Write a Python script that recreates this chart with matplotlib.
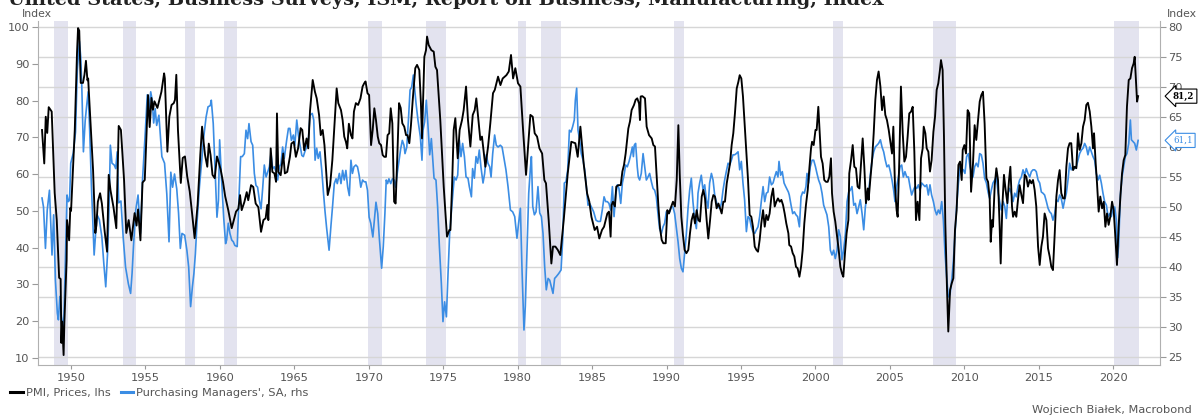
import matplotlib
matplotlib.use("Agg")
import matplotlib.pyplot as plt
from matplotlib.transforms import blended_transform_factory
from matplotlib.lines import Line2D

# ---------------- data ----------------
prices_t = [1948.05,1948.20,1948.30,1948.40,1948.50,1948.70,1948.90,1949.04,1949.20,1949.30,1949.35,1949.40,1949.50,1949.55,1949.70,1949.73,1949.87,1949.95,1950.00,1950.25,1950.40,1950.47,1950.55,1950.65,1950.80,1950.90,1951.00,1951.10,1951.15,1951.20,1951.48,1951.63,1951.70,1951.80,1951.95,1952.07,1952.26,1952.42,1952.53,1952.65,1952.85,1953.04,1953.20,1953.35,1953.56,1953.71,1953.87,1954.05,1954.27,1954.40,1954.50,1954.66,1954.80,1954.95,1955.17,1955.28,1955.40,1955.50,1955.60,1955.70,1955.80,1956.07,1956.25,1956.30,1956.47,1956.60,1956.75,1956.90,1956.98,1957.07,1957.18,1957.37,1957.50,1957.65,1957.80,1957.97,1958.13,1958.30,1958.50,1958.68,1958.80,1958.90,1959.00,1959.15,1959.25,1959.37,1959.50,1959.65,1959.80,1959.90,1960.05,1960.20,1960.35,1960.56,
    1960.79,1960.90,1961.08,1961.24,1961.35,1961.46,1961.64,1961.80,1961.90,1962.09,1962.24,1962.40,1962.58,1962.76,1962.92,1963.07,1963.18,1963.25,1963.41,1963.52,1963.66,1963.77,1963.83,1963.92,1964.08,1964.25,1964.36,1964.52,1964.70,1964.80,1964.96,1965.10,1965.25,1965.42,1965.53,1965.66,1965.82,1965.93,1966.05,1966.23,1966.38,1966.50,1966.66,1966.77,1966.90,1967.02,1967.13,1967.24,1967.40,1967.55,1967.70,1967.84,1967.95,1968.13,1968.24,1968.35,1968.46,1968.55,1968.66,1968.80,1968.90,1969.00,1969.13,1969.28,1969.44,1969.58,1969.69,1969.78,1969.91,1970.02,1970.15,1970.26,1970.37,1970.48,1970.60,1970.70,1970.82,1970.93,1971.04,1971.15,1971.26,1971.37,1971.47,1971.58,1971.70,1971.80,1971.92,1972.03,1972.14,1972.25,1972.38,1972.50,1972.60,1972.72,1972.83,1972.95,
    1973.12,1973.24,1973.39,1973.50,1973.57,1973.73,1973.84,1973.91,1974.02,1974.20,1974.36,1974.47,1974.58,1974.80,1975.03,1975.25,1975.41,1975.48,1975.59,1975.70,1975.81,1975.97,1976.10,1976.26,1976.37,1976.53,1976.66,1976.82,1976.98,1977.11,1977.22,1977.49,1977.60,1977.83,1978.01,1978.16,1978.34,1978.46,1978.68,1978.84,1978.99,1979.24,1979.40,1979.55,1979.69,1979.84,1980.02,1980.18,1980.36,1980.56,1980.69,1980.85,1981.01,1981.14,1981.30,1981.46,1981.64,1981.79,1981.90,1982.08,1982.26,1982.37,1982.53,1982.69,1982.86,1983.09,1983.36,1983.60,1983.87,1984.03,1984.21,1984.43,1984.66,1984.81,1984.95,1985.17,1985.33,1985.48,1985.66,
    1985.80,1985.91,1986.02,1986.13,1986.24,1986.31,1986.40,1986.53,1986.62,1986.76,1986.92,1987.03,1987.14,1987.25,1987.43,1987.54,1987.65,1987.81,1987.92,1988.03,1988.15,1988.21,1988.26,1988.37,1988.55,1988.66,1988.82,1989.00,1989.11,1989.22,1989.31,1989.45,1989.56,1989.67,1989.78,1989.94,1990.05,1990.16,1990.27,1990.43,1990.56,1990.68,1990.79,1990.88,1990.99,1991.10,1991.21,1991.33,1991.46,1991.57,1991.68,1991.80,1991.91,1992.02,1992.13,1992.24,1992.36,1992.47,1992.58,1992.69,1992.80,1992.92,1993.03,1993.14,1993.25,1993.36,1993.48,1993.59,1993.70,1993.81,1993.92,1994.04,1994.15,1994.26,1994.37,1994.48,1994.59,1994.71,1994.82,1994.91,1995.02,1995.13,1995.24,1995.36,1995.47,1995.58,1995.69,1995.80,1995.92,1996.03,1996.14,1996.25,1996.36,1996.48,1996.59,1996.70,1996.81,1996.92,1997.04,1997.15,1997.26,1997.37,1997.48,1997.60,1997.71,1997.82,1997.93,1998.04,1998.18,
    1998.24,1998.36,1998.47,1998.58,1998.69,1998.80,1998.92,1999.03,1999.14,1999.25,1999.36,1999.48,1999.59,1999.70,1999.77,1999.88,2000.00,2000.08,2000.19,2000.26,2000.37,2000.48,2000.59,2000.71,2000.82,2000.93,2001.04,2001.11,2001.22,2001.33,2001.45,2001.56,2001.67,2001.78,2001.87,2001.98,2002.09,2002.21,2002.27,2002.39,2002.50,2002.61,2002.72,2002.83,2002.95,2003.06,2003.17,2003.28,2003.39,2003.51,2003.57,2003.68,2003.80,2003.91,2004.02,2004.13,2004.24,2004.36,2004.47,2004.58,2004.69,2004.80,2004.92,2005.03,2005.14,2005.23,2005.34,2005.45,2005.52,2005.63,2005.74,2005.86,2005.97,2006.08,2006.19,2006.30,2006.42,2006.53,2006.64,2006.75,2006.86,2006.98,2007.09,2007.20,2007.27,2007.38,2007.47,2007.58,2007.69,2007.80,2007.92,2008.03,2008.14,2008.25,2008.36,2008.43,2008.54,2008.63,2008.72,2008.83,2008.92,2009.04,2009.15,2009.26,2009.37,2009.48,2009.60,2009.71,2009.82,2009.89,2010.00,2010.11,2010.22,2010.33,2010.45,2010.58,
    2010.69,2010.80,2010.92,2011.03,2011.14,2011.25,2011.36,2011.48,2011.59,2011.70,2011.77,2011.86,2011.92,2012.04,2012.15,2012.26,2012.37,2012.44,2012.55,2012.66,2012.77,2012.89,2013.00,2013.09,2013.20,2013.27,2013.38,2013.49,2013.60,2013.71,2013.83,2013.94,2014.05,2014.16,2014.27,2014.39,2014.50,2014.61,2014.72,2014.83,2014.95,2015.06,2015.17,2015.28,2015.39,2015.51,2015.62,2015.73,2015.84,2015.95,2016.07,2016.18,2016.29,2016.40,2016.51,2016.63,2016.74,2016.85,2016.96,2017.07,2017.18,2017.30,2017.41,2017.52,2017.63,2017.74,2017.86,2017.97,2018.08,2018.19,2018.30,2018.42,2018.53,2018.64,2018.71,2018.82,2018.91,2019.02,2019.13,2019.25,2019.36,2019.47,2019.58,2019.69,2019.80,2019.92,2020.03,2020.14,2020.25,2020.36,2020.48,2020.59,2020.70,2020.81,2020.92,2021.04,2021.15,2021.26,2021.37,2021.44,2021.51,2021.60,2021.67]
prices = [72.0,62.9,75.6,71.2,78.2,77.0,54.9,47.5,31.8,31.5,14.1,19.9,10.8,19.6,36.6,47.5,42.0,50.8,50.0,72.0,92.9,99.7,99.0,84.8,84.8,87.0,90.8,85.5,86.0,82.0,61.0,44.0,46.0,52.5,54.8,52.0,44.3,38.9,59.8,55.6,51.0,45.3,73.1,72.0,58.4,44.0,47.5,42.0,49.4,46.0,50.4,42.0,57.7,58.4,81.5,72.8,80.7,77.5,79.8,78.9,78.0,82.4,87.4,86.0,66.1,75.6,78.8,79.3,80.2,87.0,72.0,57.6,64.4,64.8,59.4,55.3,49.3,42.6,51.7,65.2,72.9,68.8,65.2,62.0,68.3,65.2,59.8,58.9,64.8,63.5,61.2,58.0,54.0,50.2,
    45.3,47.0,49.8,50.6,54.3,50.2,52.4,55.1,52.9,57.0,56.5,52.0,51.0,44.3,47.5,48.0,51.6,47.5,67.0,60.6,60.2,57.9,76.5,60.6,59.7,65.6,60.2,60.6,64.7,68.3,68.8,64.7,67.0,72.5,72.0,66.5,69.7,67.0,77.2,85.6,82.4,80.6,76.0,70.6,72.0,67.9,61.1,54.3,57.0,63.8,73.7,83.3,79.3,77.4,74.7,70.2,68.8,67.0,73.7,70.6,69.7,77.0,79.3,78.8,80.6,83.8,84.7,85.2,82.0,81.5,67.9,72.0,77.9,74.7,70.2,68.4,67.9,65.2,64.7,64.7,70.6,71.1,77.9,73.8,52.5,52.0,65.6,79.3,78.0,73.8,72.9,70.6,70.6,68.4,73.3,80.2,
    88.8,89.7,88.3,79.2,69.7,91.9,93.7,97.4,95.1,93.7,93.3,89.2,88.3,74.7,56.6,43.0,44.8,44.8,56.6,72.0,75.2,64.3,72.0,74.7,77.4,83.8,74.7,67.5,76.1,77.4,80.6,69.3,70.2,62.0,67.5,73.8,82.0,82.9,86.5,84.2,86.0,86.9,87.9,92.4,86.0,88.8,84.7,83.8,72.0,59.8,67.0,76.1,75.6,71.1,70.2,67.0,65.6,58.4,57.5,47.5,35.7,40.3,40.3,39.4,38.0,47.5,60.2,68.8,68.4,64.7,72.9,62.9,54.8,52.5,48.4,44.8,45.7,42.5,44.8,
    45.7,47.5,49.3,49.8,43.0,51.6,52.5,51.2,56.6,57.0,57.0,60.7,62.5,65.6,72.4,74.3,77.4,78.8,80.2,80.6,79.2,74.7,81.1,81.2,80.6,72.9,70.6,69.7,67.9,67.5,61.1,51.2,45.3,42.1,41.2,41.2,50.2,49.3,50.7,52.5,51.2,58.4,73.3,60.2,48.4,43.4,39.4,38.5,39.4,43.9,47.5,49.3,46.6,50.2,47.5,47.1,53.9,55.7,53.4,47.5,42.5,47.5,52.5,54.3,53.9,50.7,52.0,50.7,49.3,52.5,52.5,57.5,60.2,62.9,67.9,71.1,76.5,83.3,85.1,86.9,86.0,81.1,73.8,66.1,58.4,48.9,48.4,45.7,40.3,39.4,38.9,42.1,46.6,50.2,45.7,48.9,47.5,49.3,53.9,56.1,51.2,52.5,53.4,52.5,53.0,51.6,49.3,46.6,43.9,
    40.7,40.3,38.5,37.6,34.8,34.4,32.1,34.8,39.4,46.6,51.6,55.7,61.6,67.0,68.8,67.9,72.0,72.0,78.3,72.9,64.7,62.9,58.4,57.9,57.9,59.3,64.3,54.8,49.8,47.1,43.0,39.4,34.8,33.0,32.1,38.5,43.9,47.5,60.2,63.8,67.9,62.0,61.6,56.6,56.1,62.9,69.7,62.0,52.1,56.1,53.0,58.4,63.8,71.1,80.2,85.6,87.9,83.8,77.4,81.1,76.1,74.7,72.0,68.8,65.6,72.9,56.6,50.2,48.4,63.8,83.8,71.1,63.4,64.7,70.2,76.5,77.0,78.3,66.1,47.5,52.5,47.5,64.3,67.0,72.9,71.1,67.0,66.1,60.7,63.8,71.5,75.6,82.9,84.7,88.3,91.0,88.3,70.2,46.6,29.4,17.2,28.5,30.3,31.7,44.8,50.2,62.5,63.4,58.4,66.6,67.9,65.6,77.4,76.5,55.2,62.9,
    73.3,69.3,74.7,79.7,81.5,82.4,73.8,58.9,57.9,53.4,41.6,47.5,45.7,57.0,61.6,58.4,45.7,35.7,51.2,59.8,55.7,52.1,58.4,62.0,51.2,48.4,49.8,48.4,53.0,57.0,54.3,52.1,59.8,59.3,56.6,58.4,57.5,58.4,55.7,51.2,40.3,35.3,40.3,43.0,49.3,47.5,39.8,37.6,34.8,33.9,43.9,53.9,58.4,61.1,54.8,53.4,53.4,62.0,67.0,68.4,68.4,61.1,62.0,61.6,71.1,66.6,68.4,72.9,74.7,78.8,79.4,77.0,72.9,67.0,71.1,62.9,57.5,49.8,53.9,50.7,52.5,45.7,49.3,46.2,48.4,52.5,50.2,43.0,35.3,45.7,53.9,60.2,63.8,65.2,78.3,85.6,86.0,88.8,90.1,91.9,86.5,79.7,81.2]

pmi_t = [1948.05,1948.15,1948.28,1948.40,1948.55,1948.72,1948.83,1948.95,1949.08,1949.15,1949.25,1949.35,1949.50,1949.60,1949.73,1949.82,1949.90,1949.98,1950.15,1950.30,1950.42,1950.56,1950.65,1950.72,1950.83,1950.95,1951.05,1951.15,1951.25,1951.37,1951.55,1951.65,1951.75,1951.90,1952.07,1952.20,1952.33,1952.45,1952.55,1952.64,1952.75,1952.90,1953.00,1953.10,1953.20,1953.35,1953.50,1953.66,1953.85,1954.00,1954.10,1954.20,1954.35,1954.50,1954.66,1954.80,1954.90,1955.00,1955.12,1955.23,1955.35,1955.45,1955.55,1955.65,1955.75,1955.90,1956.10,1956.28,1956.43,1956.58,1956.70,1956.82,1956.95,1957.10,1957.22,1957.34,1957.45,1957.63,1957.78,1957.90,1958.03,1958.15,1958.25,1958.35,1958.47,1958.62,1958.78,1958.90,1959.07,1959.20,1959.35,1959.42,1959.55,1959.66,1959.80,1959.90,1959.98,1960.10,1960.25,1960.38,
    1960.45,1960.56,1960.67,1960.79,1960.90,1961.00,1961.16,1961.28,1961.39,1961.50,1961.64,1961.75,1961.86,1961.95,1962.09,1962.20,1962.31,1962.42,1962.53,1962.65,1962.76,1962.87,1962.98,1963.10,1963.20,1963.32,1963.43,1963.54,1963.66,1963.77,1963.88,1963.99,1964.10,1964.21,1964.32,1964.48,1964.60,1964.70,1964.80,1964.93,1965.03,1965.16,1965.27,1965.38,1965.50,1965.60,1965.70,1965.82,1965.93,1966.05,1966.20,1966.30,1966.39,1966.50,1966.60,1966.72,1966.84,1966.95,1967.06,1967.17,1967.33,1967.46,1967.57,1967.68,1967.80,1967.88,1968.02,1968.13,1968.24,1968.35,1968.46,1968.58,1968.69,1968.80,1968.90,1969.00,1969.13,1969.24,1969.35,1969.46,1969.58,1969.69,1969.80,1969.91,1970.02,1970.13,1970.27,1970.37,1970.48,1970.60,1970.70,1970.86,1970.97,1971.08,1971.17,1971.26,1971.35,1971.47,1971.58,1971.70,1971.80,1971.92,1972.03,1972.14,1972.25,1972.36,1972.43,1972.55,1972.66,1972.77,1972.88,1972.99,
    1973.17,1973.30,1973.46,1973.57,1973.64,1973.75,1973.86,1973.97,1974.09,1974.20,1974.29,1974.38,1974.51,1974.62,1974.74,1974.87,1974.98,1975.09,1975.21,1975.32,1975.43,1975.59,1975.74,1975.86,1975.97,1976.08,1976.19,1976.30,1976.42,1976.53,1976.66,1976.75,1976.89,1976.97,1977.09,1977.20,1977.31,1977.42,1977.53,1977.67,1977.78,1977.89,1978.00,1978.12,1978.21,1978.32,1978.45,1978.56,1978.68,1978.83,1978.95,1979.06,1979.21,1979.35,1979.51,1979.66,1979.80,1979.95,1980.06,1980.18,1980.29,1980.42,1980.51,1980.62,1980.74,1980.85,1980.92,1981.01,1981.12,1981.23,1981.36,1981.48,1981.59,1981.70,1981.81,1981.92,1982.04,1982.15,1982.26,1982.37,1982.48,1982.59,1982.75,1982.91,1983.02,1983.13,1983.24,1983.36,1983.47,1983.58,1983.69,1983.80,1983.87,1983.96,1984.05,1984.16,1984.27,1984.39,1984.50,1984.61,1984.72,1984.83,1984.99,1985.10,1985.26,1985.39,1985.55,
    1985.57,1985.68,1985.80,1985.91,1986.02,1986.13,1986.24,1986.36,1986.47,1986.58,1986.69,1986.80,1986.92,1987.03,1987.14,1987.25,1987.36,1987.48,1987.59,1987.70,1987.77,1987.83,1987.92,1988.03,1988.10,1988.19,1988.30,1988.42,1988.53,1988.64,1988.75,1988.86,1988.98,1989.09,1989.20,1989.31,1989.42,1989.53,1989.65,1989.76,1989.87,1989.98,1990.09,1990.21,1990.32,1990.43,1990.54,1990.65,1990.77,1990.88,1990.99,1991.10,1991.21,1991.33,1991.44,1991.55,1991.66,1991.77,1991.89,1992.00,1992.11,1992.22,1992.33,1992.45,1992.56,1992.67,1992.78,1992.89,1993.01,1993.12,1993.23,1993.34,1993.45,1993.57,1993.68,1993.79,1993.90,1994.01,1994.13,1994.24,1994.35,1994.46,1994.57,1994.68,1994.80,1994.91,1995.02,1995.13,1995.24,1995.36,1995.47,1995.58,1995.69,1995.80,1995.92,1996.03,1996.14,1996.25,1996.36,1996.48,1996.59,1996.70,1996.81,1996.92,1997.04,1997.15,1997.26,1997.37,1997.48,1997.55,1997.66,1997.77,1997.89,1998.00,1998.18,
    1998.24,1998.36,1998.47,1998.58,1998.69,1998.80,1998.92,1999.03,1999.14,1999.25,1999.36,1999.43,1999.54,1999.65,1999.77,1999.88,2000.00,2000.10,2000.21,2000.33,2000.44,2000.55,2000.66,2000.77,2000.89,2001.00,2001.11,2001.22,2001.33,2001.45,2001.56,2001.67,2001.78,2001.89,2002.01,2002.12,2002.23,2002.34,2002.45,2002.57,2002.68,2002.79,2002.90,2003.01,2003.13,2003.24,2003.35,2003.46,2003.57,2003.68,2003.80,2003.91,2004.02,2004.13,2004.24,2004.36,2004.47,2004.58,2004.69,2004.80,2004.92,2005.03,2005.14,2005.25,2005.34,2005.45,2005.57,2005.68,2005.79,2005.90,2006.01,2006.13,2006.24,2006.35,2006.46,2006.57,2006.68,2006.80,2006.91,2007.02,2007.13,2007.24,2007.36,2007.47,2007.58,2007.69,2007.80,2007.92,2008.03,2008.14,2008.25,2008.36,2008.48,2008.59,2008.70,2008.81,2008.92,2009.04,2009.15,2009.26,2009.37,2009.48,2009.60,2009.71,2009.82,2009.93,2010.04,2010.15,2010.27,2010.38,2010.49,
    2010.58,2010.69,2010.80,2010.92,2011.03,2011.14,2011.25,2011.36,2011.48,2011.59,2011.70,2011.81,2011.92,2012.04,2012.15,2012.26,2012.37,2012.48,2012.60,2012.71,2012.82,2012.93,2013.04,2013.15,2013.27,2013.38,2013.49,2013.60,2013.71,2013.83,2013.94,2014.05,2014.16,2014.27,2014.39,2014.50,2014.61,2014.72,2014.83,2014.95,2015.06,2015.17,2015.28,2015.39,2015.51,2015.62,2015.73,2015.84,2015.95,2016.07,2016.18,2016.29,2016.40,2016.51,2016.63,2016.74,2016.85,2016.96,2017.07,2017.18,2017.30,2017.41,2017.52,2017.63,2017.74,2017.86,2017.97,2018.08,2018.19,2018.30,2018.42,2018.53,2018.64,2018.75,2018.86,2018.98,2019.09,2019.20,2019.31,2019.42,2019.54,2019.65,2019.76,2019.87,2019.98,2020.10,2020.21,2020.28,2020.36,2020.48,2020.59,2020.70,2020.81,2020.92,2021.04,2021.15,2021.22,2021.33,2021.44,2021.55,2021.67]
pmi = [51.5,50.0,43.1,49.5,52.8,42.0,48.7,37.8,32.3,31.2,35.1,31.8,29.5,39.0,52.0,50.9,51.2,57.3,59.0,62.5,72.8,77.6,75.0,70.3,59.2,64.4,66.9,69.2,62.8,53.4,42.0,45.6,48.7,47.9,45.0,40.6,36.7,42.2,49.7,60.3,57.3,57.0,56.4,59.2,50.7,51.0,45.0,40.0,37.2,35.6,39.0,43.8,49.6,52.0,45.6,54.5,58.7,63.1,68.7,66.4,69.2,67.8,64.0,66.4,63.6,65.3,58.4,57.3,52.2,44.2,55.8,53.3,55.5,53.0,49.0,43.1,45.6,45.3,42.8,40.0,33.4,36.7,38.9,42.2,47.8,53.3,57.8,61.4,65.0,66.7,66.9,67.8,63.9,57.2,48.3,51.1,61.2,55.1,48.3,43.9,
    44.5,47.3,45.6,44.5,44.2,43.6,43.4,51.7,58.4,58.4,58.9,62.8,61.4,63.9,60.9,60.3,55.6,53.6,53.3,51.1,49.7,53.1,57.0,55.0,55.8,56.7,58.9,56.4,56.7,55.8,54.5,56.7,57.2,60.0,58.1,61.1,63.1,63.1,61.1,62.0,60.3,64.5,62.0,60.3,58.6,58.4,59.2,60.0,60.9,65.3,65.6,64.5,57.8,59.8,58.1,59.2,56.1,52.5,49.2,46.4,42.8,47.0,50.3,53.9,54.7,53.9,55.6,53.9,56.1,54.5,56.1,53.3,51.9,57.8,55.6,56.7,57.0,56.7,55.3,53.3,54.5,54.2,54.2,52.8,48.3,47.3,45.0,47.8,50.8,48.9,45.0,39.8,43.4,48.9,54.5,53.9,54.7,53.9,54.7,54.5,53.3,55.8,57.8,59.7,61.1,60.3,58.9,60.0,64.5,69.5,70.0,72.0,
    67.3,64.5,61.7,57.8,62.8,64.2,67.8,63.7,58.7,61.4,58.1,54.8,54.5,50.1,43.4,37.3,30.9,34.2,31.7,38.9,45.6,50.6,55.0,54.5,55.3,61.2,58.4,60.6,58.4,55.0,54.8,53.4,51.7,56.4,54.8,58.4,57.3,59.5,56.7,54.0,55.6,58.7,57.3,56.7,55.0,58.9,62.0,60.3,60.0,60.3,60.0,58.4,56.2,53.4,49.5,49.2,48.4,44.8,47.3,49.8,39.5,29.5,33.4,42.3,52.3,56.4,58.4,50.1,48.7,49.2,53.4,49.0,48.4,45.6,40.1,36.2,38.1,37.8,36.7,35.6,38.1,38.4,38.9,39.5,44.5,54.0,54.2,56.2,62.8,62.5,63.4,64.5,67.8,69.8,62.8,61.2,58.9,57.8,56.2,53.4,50.3,50.6,49.8,49.2,47.8,47.6,47.6,
    47.8,49.5,51.7,50.9,50.9,50.6,49.5,53.4,48.4,52.0,53.7,53.1,50.6,54.0,55.3,57.0,56.7,57.6,58.7,60.0,58.4,60.3,60.6,56.7,55.0,54.5,55.6,58.9,56.7,54.5,55.0,55.6,54.2,53.1,52.8,51.7,48.9,46.4,45.6,46.7,47.3,49.2,48.9,49.2,50.0,50.0,48.9,46.7,44.2,41.4,39.8,39.2,42.3,45.6,49.8,52.8,54.8,50.9,47.8,46.4,52.3,54.0,55.3,52.8,53.7,51.2,49.8,54.0,55.6,54.5,52.0,50.9,50.0,49.8,50.6,52.8,54.5,55.9,57.3,57.0,57.8,58.7,58.7,58.9,59.2,56.2,57.6,54.0,51.2,45.9,48.4,48.1,46.7,45.9,45.6,46.2,46.7,48.4,50.9,53.4,50.9,52.3,52.5,55.0,53.7,54.0,55.0,55.9,55.0,57.6,55.3,55.9,54.0,53.4,52.5,
    52.0,50.3,48.9,49.2,48.7,48.4,46.7,51.7,52.5,52.3,53.4,55.6,54.0,56.7,57.8,57.8,56.7,55.6,54.5,53.7,52.3,50.3,49.5,48.7,46.7,42.8,42.0,42.8,41.4,42.8,46.2,45.1,41.2,42.8,45.6,50.9,52.5,52.8,53.4,50.3,50.6,48.9,50.0,51.2,48.9,46.2,50.0,52.0,52.3,55.3,57.8,59.2,60.0,60.3,60.6,61.2,60.0,59.2,57.8,56.7,57.0,55.9,54.5,52.8,50.9,53.4,55.0,56.7,57.0,55.0,55.9,55.0,55.0,53.4,52.0,52.8,53.4,53.1,53.7,52.8,54.0,53.7,53.4,53.7,52.0,53.7,52.0,50.9,49.5,48.7,49.5,48.9,50.9,47.8,42.3,38.4,35.0,35.5,37.8,40.9,45.6,50.0,54.0,56.7,56.4,56.2,55.6,58.4,58.9,56.7,55.6,
    55.0,56.7,57.3,56.7,58.9,58.7,57.3,54.8,54.0,52.5,51.4,52.8,54.0,54.5,55.0,52.5,50.9,49.5,50.9,50.1,48.1,52.3,53.1,52.3,50.9,52.3,51.7,53.4,54.5,55.0,56.2,55.3,56.4,55.6,55.0,55.9,56.2,56.2,55.9,54.5,54.0,52.5,52.3,52.0,50.9,49.8,49.2,48.9,47.8,48.9,51.2,50.9,52.0,51.4,49.8,51.2,52.3,54.5,57.3,56.2,56.7,56.4,56.7,57.8,58.9,59.5,59.8,60.6,60.0,58.7,60.0,59.2,58.4,57.8,55.6,54.5,55.3,54.0,52.3,50.9,50.3,48.4,48.9,48.4,49.8,50.0,47.8,41.5,43.5,52.0,55.0,56.7,58.4,58.9,60.6,64.5,61.2,60.9,60.6,59.5,61.1]

rec_start = [1948.88, 1953.52, 1957.64, 1960.28, 1969.94, 1973.84, 1980.02, 1981.54, 1990.52, 2001.20, 2007.92, 2020.05]
rec_end   = [1949.80, 1954.36, 1958.30, 1961.12, 1970.87, 1975.18, 1980.55, 1982.88, 1991.19, 2001.86, 2009.45, 2021.71]

left_ticks = [10, 20, 30, 40, 50, 60, 70, 80, 90, 100]
right_ticks = [25, 30, 35, 40, 45, 50, 55, 60, 65, 70, 75, 80]
year_ticks = list(range(1950, 2021, 5))

title = "United States, Business Surveys, ISM, Report on Business, Manufacturing, Index"
name_prices = "PMI, Prices, lhs"
name_pmi = "Purchasing Managers', SA, rhs"
last_prices_label = "81,2"
last_pmi_label = "61,1"

# ---------------- styling ----------------
BLACK = "#000000"
BLUE = "#3b8de4"
SHADE = "#e3e3ef"
GRID = "#d6d6d6"
TXT = "#555555"
FS = 8.2

plt.rcParams["font.family"] = ["DejaVu Sans"]

fig = plt.figure(figsize=(12.01, 4.17), dpi=100)
W, H = 1201, 417
ax_l, ax_r, ax_t, ax_b = 38, 1160, 21, 365
rect = [ax_l / W, 1 - ax_b / H, (ax_r - ax_l) / W, (ax_b - ax_t) / H]

ax2 = fig.add_axes(rect)              # right axis (blue), bottom layer
ax1 = fig.add_axes(rect, sharex=ax2)  # left axis (black), top layer
ax1.patch.set_visible(False)

ax2.set_xlim(1947.78, 2023.14)
ax1.set_ylim(8.10, 101.63)
ax2.set_ylim(23.67, 81.0)

for s, e in zip(rec_start, rec_end):
    ax2.axvspan(s, e, color=SHADE, lw=0, zorder=0)

ax2.set_yticks(right_ticks)
ax2.yaxis.tick_right()
ax2.grid(axis="y", color=GRID, lw=1.0, zorder=0.5)
ax2.set_axisbelow(True)
ax1.set_yticks(left_ticks)
ax1.yaxis.tick_left()

ax2.plot(pmi_t, pmi, color=BLUE, lw=1.2, zorder=2, solid_joinstyle="round")
ax1.plot(prices_t, prices, color=BLACK, lw=1.35, zorder=3, solid_joinstyle="round")

ax2.set_xticks(year_ticks)
ax2.set_xticklabels([str(y) for y in year_ticks])
ax1.tick_params(axis="x", which="both", bottom=False, labelbottom=False)

for a in (ax1, ax2):
    for sp in a.spines.values():
        sp.set_visible(False)
ax2.spines["bottom"].set_visible(True)
ax2.spines["bottom"].set_color("#b0b0b0")
ax2.spines["right"].set_visible(True)
ax2.spines["right"].set_color("#b0b0b0")
ax1.spines["left"].set_visible(True)
ax1.spines["left"].set_color("#b0b0b0")

ax1.tick_params(axis="y", colors="#999999", labelcolor=TXT, labelsize=FS, length=4, width=0.8, pad=2)
ax2.tick_params(axis="y", colors="#999999", labelcolor=TXT, labelsize=FS, length=4, width=0.8, pad=2)
ax2.tick_params(axis="x", colors="#999999", labelcolor=TXT, labelsize=FS, length=3, width=0.8, pad=3)

# axis unit labels
fig.text(22 / W, 1 - 14 / H, "Index", ha="left", va="center", fontsize=FS - 0.4, color=TXT)
fig.text(1197 / W, 1 - 14 / H, "Index", ha="right", va="center", fontsize=FS - 0.4, color=TXT)

# last-value callouts
tr1 = blended_transform_factory(ax1.transAxes, ax1.transData)
tr2 = blended_transform_factory(ax2.transAxes, ax2.transData)
ax1.text(1.0115, prices[-1], last_prices_label, transform=tr1, ha="left", va="center",
         fontsize=6.2, color=BLACK, fontweight="bold", family="DejaVu Serif", clip_on=False, zorder=10,
         bbox=dict(boxstyle="larrow,pad=0.3", fc="white", ec=BLACK, lw=0.8))
ax2.text(1.0115, pmi[-1], last_pmi_label, transform=tr2, ha="left", va="center",
         fontsize=6.2, color=BLUE, family="DejaVu Serif", clip_on=False, zorder=10,
         bbox=dict(boxstyle="larrow,pad=0.3", fc="white", ec=BLUE, lw=0.8))

# title (partly cut at top, like the reference)
t = fig.text(8 / W, 1 - 5 / H, title, ha="left", va="baseline", fontsize=15,
             fontweight="bold", family="DejaVu Serif", color="#222222")
fig.canvas.draw()
bb = t.get_window_extent()
t.set_fontsize(15 * 879.0 / bb.width)

# legend
handles = [Line2D([], [], color=BLACK, lw=2.2), Line2D([], [], color=BLUE, lw=2.2)]
fig.legend(handles, [name_prices, name_pmi], loc="center left", bbox_to_anchor=(0.002, 1 - 393 / H),
           ncol=2, frameon=False, fontsize=FS, labelcolor=TXT, handlelength=1.1,
           handletextpad=0.25, columnspacing=0.9, borderpad=0.2)

fig.text(1192 / W, 1 - 410 / H, "Wojciech Białek, Macrobond", ha="right", va="center",
         fontsize=FS, color=TXT)

fig.savefig("out.png", dpi=100)
